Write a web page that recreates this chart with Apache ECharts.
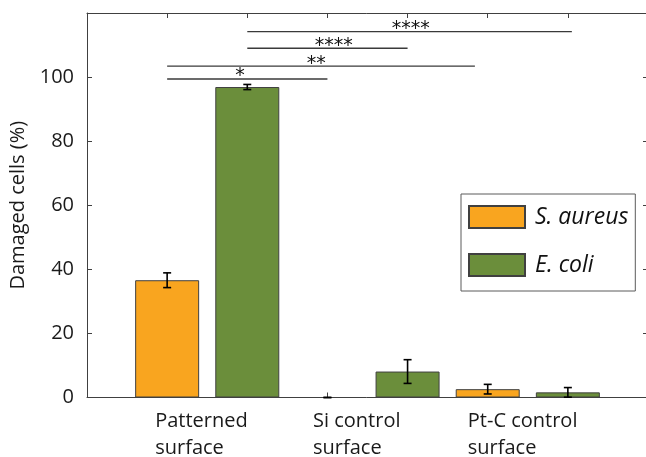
<!DOCTYPE html>
<html><head><meta charset="utf-8">
<script src="https://cdn.jsdelivr.net/npm/echarts@6/dist/echarts.min.js"></script>
<style>html,body{margin:0;padding:0;background:#fff}#c{width:646px;height:457px}</style>
</head><body><div id="c"></div>
<script>
// ---- data ----
const categories = ['Patterned\nsurface', 'Si control\nsurface', 'Pt-C control\nsurface'];
const seriesNames = ['S. aureus', 'E. coli'];
const saureus = [36.6, 0, 2.6];
const saureusErr = [2.3, 0, 1.5];
const ecoli = [96.9, 8.1, 1.6];
const ecoliErr = [0.8, 3.7, 1.5];
const yTickLabels = ['0', '20', '40', '60', '80', '100'];
// significance brackets (x in bar-slot units, y in %)
const sigFrom = [1, 1, 2, 2];
const sigTo = [3, 4.84, 4, 6.05];
const sigY = [99.4, 103.4, 109.0, 114.2];
const sigLabel = ['*', '**', '****', '****'];
const sigLabelX = [1.91, 2.86, 3.08, 4.04];

// ---- build ----
const FONT = "'Open Sans', sans-serif";
const AXIS = '#404040';
const orangePts = saureus.map((v, i) => [2 * i + 1, v]);
const greenPts = ecoli.map((v, i) => [2 * i + 2, v]);
const errData = [];
saureus.forEach((v, i) => errData.push([2 * i + 1, v, saureusErr[i]]));
ecoli.forEach((v, i) => errData.push([2 * i + 2, v, ecoliErr[i]]));
const labelPos = categories.map((c, i) => 2 * i + 1.5);
const sigData = sigFrom.map((f, i) => [f, sigY[i], sigTo[i], sigLabelX[i], i]);

const chart = echarts.init(document.getElementById('c'), null, { renderer: 'canvas' });
const labelRich = {
  w0: { width: 104, align: 'left', fontSize: 20, lineHeight: 27, fontFamily: FONT, color: '#1a1a1a' },
  w1: { width: 109, align: 'left', fontSize: 20, lineHeight: 27, fontFamily: FONT, color: '#1a1a1a' },
  w2: { width: 120, align: 'left', fontSize: 20, lineHeight: 27, fontFamily: FONT, color: '#1a1a1a' }
};
chart.setOption({
  animation: false,
  backgroundColor: '#fff',
  grid: { left: 87, top: 13, width: 561, height: 384.5, outerBoundsMode: 'none' },
  legend: {
    data: seriesNames, orient: 'vertical', left: 461, top: 194,
    icon: 'rect', itemWidth: 56, itemHeight: 22, itemGap: 24,
    padding: [11, 7, 14, 7], borderColor: '#5a5a5a', borderWidth: 1, backgroundColor: '#fff',
    textStyle: { fontFamily: FONT, fontSize: 23, fontStyle: 'italic', color: '#111', padding: [0, 0, 0, 5] },
    selectedMode: false
  },
  xAxis: [{
    type: 'value', position: 'bottom', min: 0, max: 7, interval: 1,
    axisLine: { show: true, onZero: false, lineStyle: { color: AXIS, width: 1 } },
    axisTick: { show: true, inside: true, length: 5, lineStyle: { color: AXIS } },
    splitLine: { show: false },
    axisLabel: {
      show: true, customValues: labelPos, margin: 10,
      formatter: function (val) {
        const i = labelPos.indexOf(val);
        if (i < 0) return '';
        const parts = categories[i].split('\n');
        return parts.map(p => '{w' + i + '|' + p + '}').join('\n');
      },
      rich: labelRich
    }
  }, {
    type: 'value', position: 'top', min: 0, max: 7, interval: 1,
    axisLine: { show: true, onZero: false, lineStyle: { color: AXIS, width: 1 } },
    axisTick: { show: true, inside: true, length: 5, lineStyle: { color: AXIS } },
    splitLine: { show: false }, axisLabel: { show: false }
  }],
  yAxis: [{
    type: 'value', min: 0, max: 120, interval: 20, position: 'left',
    name: 'Damaged cells (%)', nameLocation: 'middle', nameGap: 54,
    nameTextStyle: { fontFamily: FONT, fontSize: 20, color: '#1a1a1a' },
    axisLine: { show: true, onZero: false, lineStyle: { color: AXIS, width: 1 } },
    axisTick: { show: true, inside: true, length: 5, lineStyle: { color: AXIS } },
    splitLine: { show: false },
    axisLabel: {
      margin: 13, fontFamily: FONT, fontSize: 20, color: '#1a1a1a',
      formatter: function (v) { const i = v / 20; return yTickLabels[i] !== undefined ? yTickLabels[i] : ''; }
    }
  }, {
    type: 'value', min: 0, max: 120, interval: 20, position: 'right',
    axisLine: { show: true, onZero: false, lineStyle: { color: AXIS, width: 1 } },
    axisTick: { show: true, inside: true, length: 5, lineStyle: { color: AXIS } },
    splitLine: { show: false }, axisLabel: { show: false }
  }],
  series: [{
    name: seriesNames[0], type: 'bar', data: orangePts, barWidth: 64, barGap: '-100%',
    itemStyle: { color: '#F9A51F', borderColor: '#404040', borderWidth: 1 },
    emphasis: { disabled: true }
  }, {
    name: seriesNames[1], type: 'bar', data: greenPts, barWidth: 64, barGap: '-100%',
    itemStyle: { color: '#6B8E3B', borderColor: '#404040', borderWidth: 1 },
    emphasis: { disabled: true }
  }, {
    type: 'custom', data: errData, z: 10, encode: { x: 0, y: 1 },
    renderItem: function (params, api) {
      const x = api.value(0), y = api.value(1), e = api.value(2);
      const t = api.coord([x, y + e]);
      const b = api.coord([x, Math.max(0, y - e)]);
      const hw = 4, st = { stroke: '#000', lineWidth: 1.6 };
      return { type: 'group', children: [
        { type: 'line', shape: { x1: t[0], y1: t[1], x2: b[0], y2: b[1] }, style: st },
        { type: 'line', shape: { x1: t[0] - hw, y1: t[1], x2: t[0] + hw, y2: t[1] }, style: st },
        { type: 'line', shape: { x1: b[0] - hw, y1: b[1], x2: b[0] + hw, y2: b[1] }, style: st }
      ] };
    }
  }, {
    type: 'custom', data: sigData, z: 10, encode: { x: 0, y: 1 },
    renderItem: function (params, api) {
      const f = api.value(0), y = api.value(1), to = api.value(2), lx = api.value(3), i = api.value(4);
      const a = api.coord([f, y]), b = api.coord([to, y]);
      const lp = api.coord([lx, y]);
      return { type: 'group', children: [
        { type: 'line', shape: { x1: a[0], y1: a[1], x2: b[0], y2: b[1] }, style: { stroke: '#3a3a3a', lineWidth: 1.3 } },
        { type: 'text', style: { x: lp[0], y: lp[1] + 7, text: sigLabel[i], fontFamily: "'DejaVu Sans', sans-serif", fontSize: 19, fill: '#111', align: 'center', verticalAlign: 'bottom' } }
      ] };
    }
  }]
});
</script>
</body></html>
